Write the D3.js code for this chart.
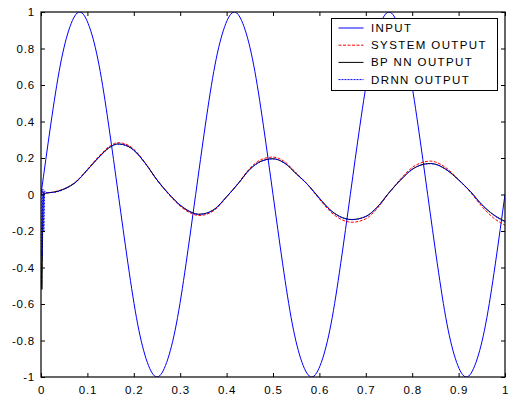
<!DOCTYPE html>
<html>
<head>
<meta charset="utf-8">
<script src="https://cdn.jsdelivr.net/npm/d3@7"></script>
<style>
  html, body { margin: 0; padding: 0; background: #fff; }
  svg { display: block; }
  .tick text { font-family: "Liberation Sans", Arial, sans-serif; font-size: 11.5px; fill: #000; letter-spacing: 0.8px; }
  .legend text { font-family: "Liberation Sans", Arial, sans-serif; font-size: 11.5px; fill: #000; letter-spacing: 1.4px; }
</style>
</head>
<body>
<div id="chart"></div>
<script>
// tick values
const xTicks = [0, 0.1, 0.2, 0.3, 0.4, 0.5, 0.6, 0.7, 0.8, 0.9, 1];
const yTicks = [-1, -0.8, -0.6, -0.4, -0.2, 0, 0.2, 0.4, 0.6, 0.8, 1];

// input signal, sampled every 1/48 s
const inputT = d3.range(49).map(i => i / 48);
const inputV = [
  0, 0.38, 0.71, 0.92, 1, 0.92, 0.71, 0.38, 0, -0.38, -0.71, -0.92, -1, -0.92, -0.71, -0.38,
  0, 0.38, 0.71, 0.92, 1, 0.92, 0.71, 0.38, 0, -0.38, -0.71, -0.92, -1, -0.92, -0.71, -0.38,
  0, 0.38, 0.71, 0.92, 1, 0.92, 0.71, 0.38, 0, -0.38, -0.71, -0.92, -1, -0.92, -0.71, -0.38,
  0
];

// output curves
const outT = [0, 0.002, 0.004, 0.006, 0.008, 0.012, 0.025, 0.05, 0.075, 0.1, 0.125, 0.15,
  0.165, 0.175, 0.2, 0.225, 0.25, 0.275, 0.3, 0.325, 0.34, 0.35, 0.375, 0.4, 0.425, 0.45, 0.475,
  0.5, 0.525, 0.55, 0.575, 0.6, 0.625, 0.65, 0.67, 0.7, 0.725, 0.75, 0.775, 0.8, 0.825, 0.84,
  0.85, 0.875, 0.9, 0.925, 0.95, 0.975, 1];
const systemOut = [0, 0.02, 0.01, 0.008, 0.006, 0.008, 0.013, 0.032, 0.07, 0.138, 0.21, 0.268,
  0.284, 0.282, 0.248, 0.172, 0.08, 0.002, -0.064, -0.105, -0.115, -0.113, -0.083, -0.014, 0.062, 0.143, 0.192,
  0.205, 0.18, 0.118, 0.053, -0.025, -0.097, -0.14, -0.152, -0.133, -0.075, 0.008, 0.085, 0.148, 0.178, 0.183,
  0.178, 0.142, 0.082, 0.014, -0.065, -0.128, -0.168];
const bpOut = [-0.3, -0.52, -0.1, 0.01, 0.005, 0.008, 0.012, 0.03, 0.068, 0.135, 0.205, 0.262,
  0.277, 0.275, 0.243, 0.17, 0.08, 0.005, -0.058, -0.098, -0.108, -0.106, -0.078, -0.012, 0.06, 0.138, 0.183,
  0.196, 0.172, 0.114, 0.054, -0.02, -0.088, -0.127, -0.137, -0.12, -0.068, 0.01, 0.08, 0.138, 0.166, 0.17,
  0.166, 0.134, 0.08, 0.018, -0.055, -0.11, -0.147];
const drnnOut = [0, -0.34, 0.03, -0.2, 0.02, 0.01, 0.011, 0.029, 0.067, 0.134, 0.204, 0.261,
  0.276, 0.274, 0.242, 0.169, 0.079, 0.004, -0.059, -0.099, -0.109, -0.107, -0.079, -0.013, 0.059, 0.137, 0.182,
  0.195, 0.171, 0.113, 0.053, -0.021, -0.089, -0.128, -0.138, -0.121, -0.069, 0.009, 0.079, 0.137, 0.165, 0.169,
  0.165, 0.133, 0.079, 0.017, -0.056, -0.112, -0.15];

const legendLabels = ['INPUT', 'SYSTEM OUTPUT', 'BP NN OUTPUT', 'DRNN OUTPUT'];

const width = 515, height = 396;
const margin = { top: 12, right: 10, bottom: 19, left: 41 };
const plotW = width - margin.left - margin.right;
const plotH = height - margin.top - margin.bottom;

const svg = d3.select('#chart').append('svg')
  .attr('width', width)
  .attr('height', height);

const x = d3.scaleLinear().domain([0, 1]).range([0, plotW]);
const y = d3.scaleLinear().domain([-1, 1]).range([plotH, 0]);

const chart = svg.append('g')
  .attr('transform', `translate(${margin.left},${margin.top})`);

chart.append('defs').append('clipPath')
  .attr('id', 'clip')
  .append('rect')
  .attr('width', plotW)
  .attr('height', plotH);

const fmt = d => String(Math.round(d * 10) / 10);

const series = [
  { t: inputT, v: inputV, color: '#0000ff', dash: null, curve: d3.curveNatural },
  { t: outT, v: systemOut, color: '#ff0000', dash: '3,1.5', curve: d3.curveMonotoneX },
  { t: outT, v: bpOut, color: '#000000', dash: null, curve: d3.curveMonotoneX },
  { t: outT, v: drnnOut, color: '#0000ff', dash: '2,1', curve: d3.curveMonotoneX },
];

const lines = chart.append('g').attr('clip-path', 'url(#clip)');
series.forEach(s => {
  const line = d3.line()
    .x(i => x(s.t[i]))
    .y(i => y(s.v[i]))
    .curve(s.curve);
  lines.append('path')
    .attr('d', line(d3.range(s.t.length)))
    .attr('fill', 'none')
    .attr('stroke', s.color)
    .attr('stroke-width', 1)
    .attr('stroke-dasharray', s.dash);
});

// axes: inward ticks on all four sides
chart.append('g')
  .attr('transform', `translate(0,${plotH})`)
  .call(d3.axisBottom(x).tickValues(xTicks).tickFormat(fmt).tickSizeInner(-4).tickSizeOuter(0).tickPadding(9));
chart.append('g')
  .call(d3.axisLeft(y).tickValues(yTicks).tickFormat(fmt).tickSizeInner(-4).tickSizeOuter(0).tickPadding(6));
chart.append('g')
  .call(d3.axisTop(x).tickValues(xTicks).tickFormat('').tickSizeInner(-4).tickSizeOuter(0));
chart.append('g')
  .attr('transform', `translate(${plotW},0)`)
  .call(d3.axisRight(y).tickValues(yTicks).tickFormat('').tickSizeInner(-4).tickSizeOuter(0));

chart.selectAll('.domain').remove();
chart.selectAll('.tick line').attr('stroke', '#000');

chart.append('rect')
  .attr('width', plotW)
  .attr('height', plotH)
  .attr('fill', 'none')
  .attr('stroke', '#000')
  .attr('stroke-width', 1.2);

// legend
const legend = svg.append('g')
  .attr('class', 'legend')
  .attr('transform', 'translate(331.5,18.5)');

legend.append('rect')
  .attr('width', 166)
  .attr('height', 72)
  .attr('fill', '#fff')
  .attr('stroke', '#000')
  .attr('stroke-width', 1);

legendLabels.forEach((label, i) => {
  const s = series[i];
  const ry = 9.5 + i * 17.2;
  legend.append('line')
    .attr('x1', 7).attr('x2', 32)
    .attr('y1', ry).attr('y2', ry)
    .attr('stroke', s.color)
    .attr('stroke-width', 1)
    .attr('stroke-dasharray', s.dash);
  legend.append('text')
    .attr('x', 39.5)
    .attr('y', ry + 4)
    .text(label);
});
</script>
</body>
</html>
